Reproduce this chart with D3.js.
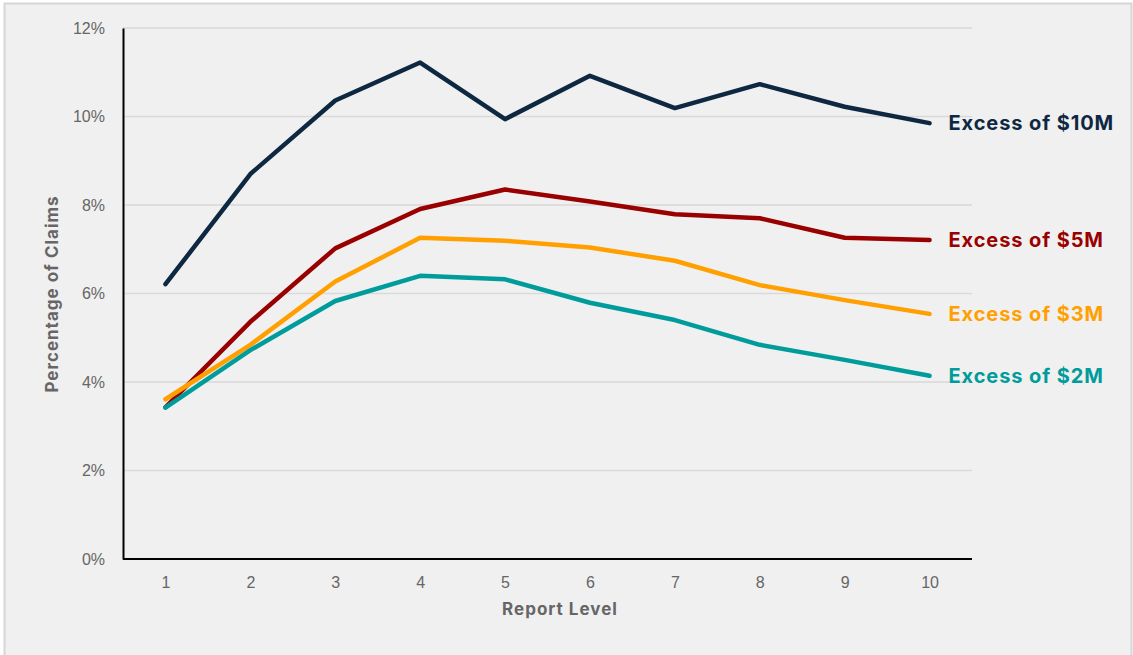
<!DOCTYPE html>
<meta charset="utf-8">
<style>
  body { margin: 0; background: #fff; }
  svg { display: block; font-family: "Liberation Sans", Arial, sans-serif; }
  .bold { font-family: Inter, "Open Sans", sans-serif; font-weight: bold; }
</style>
<svg id="chart" width="1133" height="655"></svg>
<script src="https://cdn.jsdelivr.net/npm/d3@7/dist/d3.min.js"></script>
<script>

var levels = [1, 2, 3, 4, 5, 6, 7, 8, 9, 10];
var yTicks = [0, 2, 4, 6, 8, 10, 12];

var excess10M = [6.21, 8.70, 10.36, 11.22, 9.94, 10.92, 10.19, 10.73, 10.22, 9.85];
var excess5M  = [3.43, 5.36, 7.02, 7.91, 8.35, 8.08, 7.79, 7.70, 7.26, 7.21];
var excess3M  = [3.61, 4.84, 6.27, 7.26, 7.19, 7.04, 6.74, 6.19, 5.85, 5.54];
var excess2M  = [3.42, 4.72, 5.83, 6.40, 6.32, 5.79, 5.40, 4.84, 4.50, 4.14];

var seriesNames  = ["Excess of $10M", "Excess of $5M", "Excess of $3M", "Excess of $2M"];
var seriesValues = [excess10M, excess5M, excess3M, excess2M];
var seriesColors = ["#0e2841", "#990000", "#ffa000", "#009b9b"];

var svg = d3.select("#chart");
var width = +svg.attr("width");
var height = +svg.attr("height");

var margin = {left: 123, right: 161, top: 28, bottom: 96};

// background panel
svg.append("rect")
	.attr("x", 4.5).attr("y", 3.5)
	.attr("width", width - 6).attr("height", height + 10)
	.attr("fill", "#f0f0f0")
	.attr("stroke", "#d6d6d6")
	.attr("stroke-width", 2);

var x = d3.scalePoint()
	.domain(levels)
	.range([margin.left, width - margin.right])
	.padding(0.5);

var y = d3.scaleLinear()
	.domain([0, 12])
	.range([height - margin.bottom, margin.top]);

// gridlines
svg.append("g")
	.selectAll("line")
	.data(yTicks.filter(function(d){ return d > 0; }))
	.join("line")
	.attr("x1", margin.left).attr("x2", width - margin.right)
	.attr("y1", function(d){ return y(d); })
	.attr("y2", function(d){ return y(d); })
	.attr("stroke", "#d9d9d9")
	.attr("stroke-width", 1.5);

// y axis
var yAxis = svg.append("g")
	.attr("transform", "translate(" + margin.left + ",0)")
	.call(d3.axisLeft(y).tickValues(yTicks).tickSize(0).tickPadding(18)
		.tickFormat(function(d){ return d + "%"; }));
yAxis.select(".domain").attr("stroke", "#000").attr("stroke-width", 2);
yAxis.selectAll("text")
	.attr("fill", "#666")
	.style("font-size", "16px");

// x axis
var xAxis = svg.append("g")
	.attr("transform", "translate(0," + y(0) + ")")
	.call(d3.axisBottom(x).tickSize(0).tickPadding(18));
xAxis.select(".domain")
	.attr("d", "M" + margin.left + ",0H" + (width - margin.right))
	.attr("stroke", "#000").attr("stroke-width", 2);
xAxis.selectAll("text")
	.attr("fill", "#666")
	.style("font-size", "16px");

// axis titles
svg.append("text")
	.attr("class", "bold")
	.attr("x", 560).attr("y", 615)
	.attr("text-anchor", "middle")
	.attr("fill", "#666")
	.style("font-size", "17px")
	.style("letter-spacing", "1px")
	.text("Report Level");

svg.append("text")
	.attr("class", "bold")
	.attr("transform", "translate(58,294) rotate(-90)")
	.attr("text-anchor", "middle")
	.attr("fill", "#666")
	.style("font-size", "17px")
	.style("letter-spacing", "1px")
	.text("Percentage of Claims");

var line = d3.line()
	.x(function(d, i){ return x(levels[i]); })
	.y(function(d){ return y(d); });

seriesValues.forEach(function(vals, i){
	svg.append("path")
		.datum(vals)
		.attr("d", line)
		.attr("fill", "none")
		.attr("stroke", seriesColors[i])
		.attr("stroke-width", 4.5)
		.attr("stroke-linecap", "round")
		.attr("stroke-linejoin", "round");

	svg.append("text")
		.attr("class", "bold")
		.attr("x", x(levels[levels.length - 1]) + 19)
		.attr("y", y(vals[vals.length - 1]))
		.attr("dy", "0.35em")
		.attr("fill", seriesColors[i])
		.style("font-size", "20px")
		.style("letter-spacing", "0.9px")
		.text(seriesNames[i]);
});

</script>
